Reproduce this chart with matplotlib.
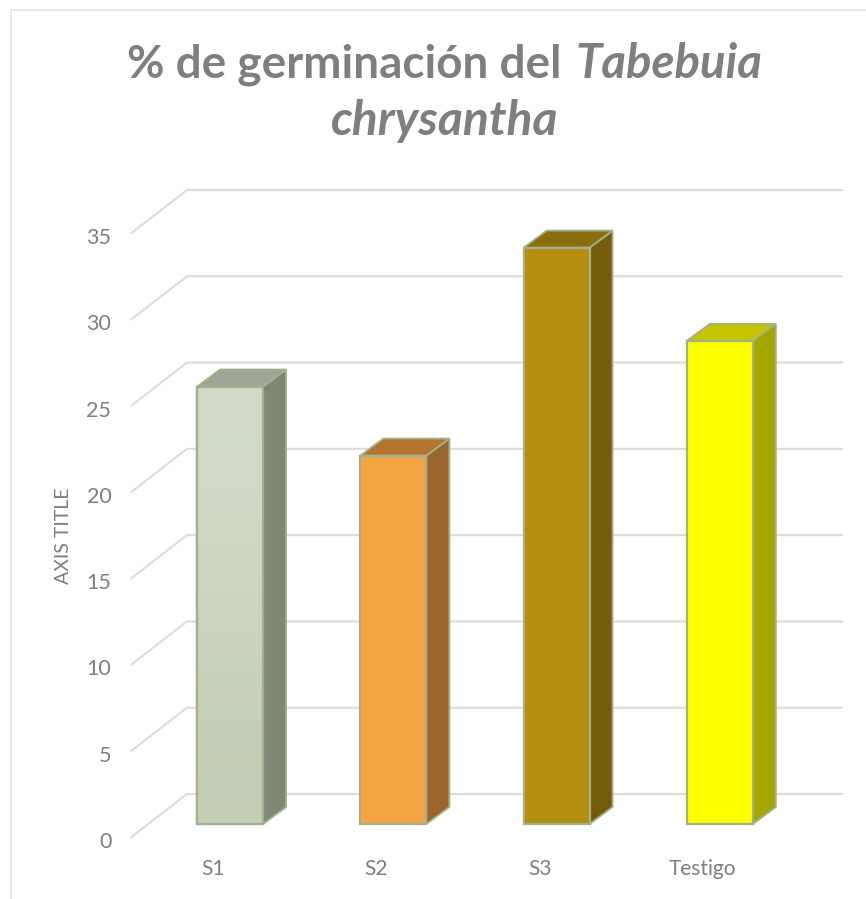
import numpy as np
import matplotlib
matplotlib.use('Agg')
import matplotlib.pyplot as plt
from matplotlib.patches import Polygon
from matplotlib.transforms import Affine2D, IdentityTransform

categories = ['S1', 'S2', 'S3', 'Testigo']
values = [25.35, 21.35, 33.4, 28.0]
yticks = [0, 5, 10, 15, 20, 25, 30, 35]

front_colors = ['#c9d3bc', '#f4a443', '#b58e10', '#ffff00']
side_colors = ['#7f8775', '#9c652b', '#755c0a', '#a6a600']
top_colors = ['#9fa595', '#b5742e', '#8a6d0c', '#c4c400']
edge_color = '#a3b08f'
grey = '#7f7f7f'

W, H = 866, 899
fig = plt.figure(figsize=(W / 100, H / 100), dpi=100)
plt.rcParams['font.family'] = ['Lato', 'DejaVu Sans']

# the axes is the front plane of the fake 3d box
ax = fig.add_axes([131.5 / W, (H - 837) / H, 653 / W, 604 / H])
ax.set_xlim(-0.5, 3.5)
ax.set_ylim(0, 35)
for s in ax.spines.values():
    s.set_visible(False)
ax.set_xticks(range(len(categories)))
ax.set_xticklabels(categories, family='Lato', fontsize=15, color=grey)
ax.set_yticks(yticks)
ax.set_yticklabels(yticks, family='Lato', fontsize=15.5, color=grey)
ax.tick_params(length=0)
ax.tick_params(axis='x', pad=16)
ax.tick_params(axis='y', pad=14.5)
# y labels sit a little under the end of their grid line
for label in ax.get_yticklabels():
    label.set_y(label.get_position()[1])
    label.set_transform(label.get_transform() + Affine2D().translate(0, -3))
ax.set_ylabel('AXIS TITLE', family='Lato', fontsize=14, color=grey)
ax.yaxis.set_label_coords(72 / W, (H - 536) / H, transform=fig.transFigure)

# depth of the floor and of the bars, in pixels
floor_dx, floor_dy = 55.5, 43
bar_shift = Affine2D().translate(17, 13)
bar_dx, bar_dy = 23, 17
identity = IdentityTransform()

for v in yticks:
    x0, y0 = ax.transData.transform((-0.5, v))
    x1, y1 = ax.transData.transform((3.5, v))
    ax.plot([x0, x0 + floor_dx, x1 + floor_dx + 2], [y0, y0 + floor_dy, y1 + floor_dy],
            color='#dcdcdc', lw=1.5, transform=identity, clip_on=False, zorder=1)

bars = ax.bar(range(len(categories)), values, width=0.404, color=front_colors,
              edgecolor=edge_color, linewidth=1.6, zorder=4,
              transform=ax.transData + bar_shift, clip_on=False)

for bar, side, top in zip(bars, side_colors, top_colors):
    x = bar.get_x()
    w = bar.get_width()
    h = bar.get_height()
    (xl, yb), (xr, yt) = (ax.transData + bar_shift).transform([(x, 0), (x + w, h)])
    side_pts = [(xr, yb), (xr + bar_dx, yb + bar_dy), (xr + bar_dx, yt + bar_dy), (xr, yt)]
    top_pts = [(xl, yt), (xr, yt), (xr + bar_dx, yt + bar_dy), (xl + bar_dx, yt + bar_dy)]
    ax.add_patch(Polygon(side_pts, closed=True, facecolor=side, edgecolor=edge_color,
                         lw=1.3, transform=identity, clip_on=False, zorder=3))
    ax.add_patch(Polygon(top_pts, closed=True, facecolor=top, edgecolor=edge_color,
                         lw=1.3, transform=identity, clip_on=False, zorder=3))

# S1 has a soft vertical gradient
first = bars[0]
grad = np.array([['#d2dbca'], ['#c3ceb5']])
grad_rgb = matplotlib.colors.to_rgba_array(grad.ravel()).reshape(2, 1, 4)
im = ax.imshow(grad_rgb, extent=(first.get_x(), first.get_x() + first.get_width(), 0, first.get_height()),
               aspect='auto', interpolation='bicubic', zorder=4.5,
               transform=ax.transData + bar_shift, clip_on=False)
ax.set_xlim(-0.5, 3.5)
ax.set_ylim(0, 35)
first_outline = plt.Rectangle((first.get_x(), 0), first.get_width(), first.get_height(), fill=False,
                              edgecolor=edge_color, lw=1.6, zorder=5,
                              transform=ax.transData + bar_shift, clip_on=False)
ax.add_patch(first_outline)

# title, the species name is bold italic inside a bold line
renderer = fig.canvas.get_renderer()
t1 = fig.text(127 / W, (H - 78) / H, '% de germinación del ', family='Lato', weight='bold',
              fontsize=33, color=grey, va='baseline')
x_end = t1.get_window_extent(renderer).x1
fig.text((x_end + 3) / W, (H - 78) / H, 'Tabebuia', family='Lato', weight='bold', style='italic',
         fontsize=34, color=grey, va='baseline')
fig.text(445 / W, (H - 135) / H, 'chrysantha', family='Lato', weight='bold', style='italic',
         fontsize=34.6, color=grey, va='baseline', ha='center')

# outer frame of the chart, only left and top are inside the crop
fig.add_artist(plt.Line2D([10.5 / W, 10.5 / W, 1.0], [0, (H - 10) / H, (H - 10) / H],
                          color='#e2e2e2', lw=1.1))

fig.savefig('out.png', dpi=100)
